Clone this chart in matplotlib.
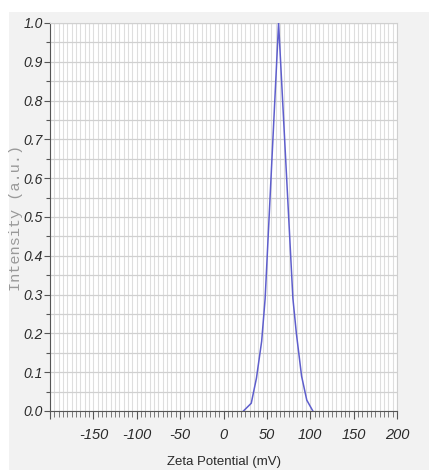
import matplotlib
matplotlib.use("Agg")
import matplotlib.pyplot as plt
from matplotlib.patches import Rectangle
from matplotlib.ticker import MultipleLocator, FixedLocator
import numpy as np

# data
zeta_mv = [23, 32, 38, 44, 48, 63.5, 80, 84, 90, 96, 103]
intensity = [0.0, 0.02, 0.085, 0.18, 0.29, 1.0, 0.29, 0.20, 0.09, 0.028, 0.0]
x_major_ticks = [-150, -100, -50, 0, 50, 100, 150, 200]
y_major_ticks = [0.0, 0.1, 0.2, 0.3, 0.4, 0.5, 0.6, 0.7, 0.8, 0.9, 1.0]

W, H = 429, 470
fig = plt.figure(figsize=(W / 100, H / 100), dpi=100, facecolor="white")
fig.patches.append(Rectangle((9 / W, 0), 1 - 9 / W, (H - 12) / H,
                             transform=fig.transFigure, facecolor="#f2f2f2",
                             edgecolor="none", zorder=-10))

ax = fig.add_axes([50 / W, (H - 411) / H, (397 - 50) / W, (411 - 23) / H])
ax.set_zorder(1)
ax.set_facecolor("white")
ax.plot(zeta_mv, intensity, color="#5e5ecc", lw=1.1, zorder=3)

ax.set_xlim(-200, 200)
ax.set_ylim(0, 1.0)
ax.xaxis.set_major_locator(FixedLocator([-200] + x_major_ticks))
ax.xaxis.set_minor_locator(MultipleLocator(5))
ax.yaxis.set_major_locator(FixedLocator(y_major_ticks))
ax.yaxis.set_minor_locator(MultipleLocator(0.05))

ax.set_xticklabels([""] + [str(v) for v in x_major_ticks])
ax.set_yticklabels([f"{v:.1f}" for v in y_major_ticks])

narrow = ["Liberation Sans Narrow", "Liberation Sans", "DejaVu Sans"]
for lab in ax.get_xticklabels():
    lab.set_family(narrow)
    lab.set_style("italic")
    lab.set_fontsize(10.5)
    lab.set_color("#2a2a2a")
for lab in ax.get_yticklabels():
    lab.set_family(narrow)
    lab.set_style("italic")
    lab.set_fontsize(10)
    lab.set_color("#2a2a2a")

ax.grid(True, which="major", axis="y", color="#d0d0d0", lw=0.9, zorder=0)
ax.grid(True, which="minor", axis="y", color="#d0d0d0", lw=0.9, zorder=0)
ax.grid(True, which="both", axis="x", color="#dedede", lw=0.8, zorder=0)
ax.set_axisbelow(True)

ax.tick_params(axis="x", which="major", direction="out", length=6, width=0.8,
               color="#555555", pad=6)
ax.tick_params(axis="x", which="minor", direction="out", length=4, width=0.6,
               color="#666666")
ax.tick_params(axis="y", which="major", direction="out", length=4, width=0.8,
               color="#555555", pad=1)
ax.tick_params(axis="y", which="minor", direction="out", length=3, width=0.8,
               color="#555555")

for s in ["left", "bottom"]:
    ax.spines[s].set_color("#555555")
    ax.spines[s].set_linewidth(0.8)
for s in ["top", "right"]:
    ax.spines[s].set_color("#d0d0d0")
    ax.spines[s].set_linewidth(0.8)

fig.text(224 / W, 1 - 462 / H, "Zeta Potential (mV)", ha="center", va="center",
         family=narrow, fontsize=9.5, color="#2a2a2a")
fig.text(16 / W, 1 - 218 / H, "Intensity (a.u.)", ha="center", va="center",
         rotation=90, family=["Liberation Mono", "DejaVu Sans Mono"],
         fontsize=11, color="#999999")

fig.savefig("out.png", dpi=100, facecolor="white")
